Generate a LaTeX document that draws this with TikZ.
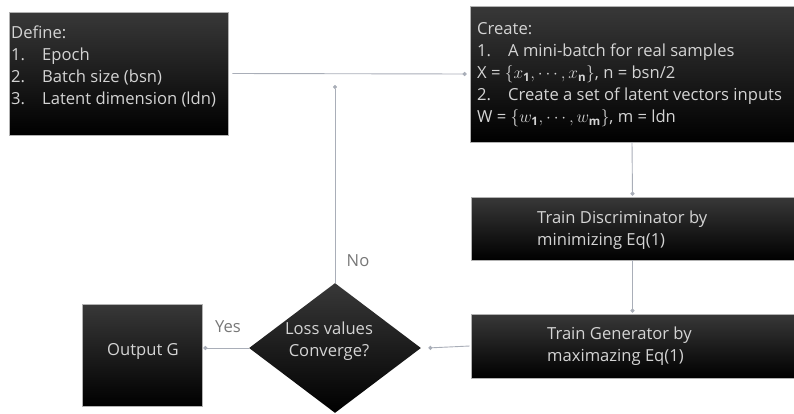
\documentclass[tikz,border=0pt]{standalone}
\usepackage{fontspec}
\setmainfont{Open Sans}
\usetikzlibrary{shapes.geometric,arrows.meta}
\definecolor{linec}{HTML}{A9AEB8}
\definecolor{txtc}{HTML}{D4D4D4}
\definecolor{lblc}{HTML}{777777}
\tikzset{
  blk/.style={draw=gray!60, line width=0.8pt, top color=black!78, middle color=black, bottom color=black, shading angle=0, inner sep=0pt},
  txt/.style={text=txtc, font=\fontsize{16.6}{22}\selectfont, align=left, inner sep=0pt},
  lbl/.style={text=lblc, font=\fontsize{16.6}{20}\selectfont, inner sep=0pt},
  conn/.style={draw=linec, line width=0.9pt, -{Circle[length=4pt]}, shorten >=1pt},
}
\newcommand{\numi}[1]{\makebox[31pt][l]{#1}}
\begin{document}
\begin{tikzpicture}[x=1pt,y=-1pt]
\useasboundingbox (0,0) rectangle (794,413);
% boxes
\node[blk, minimum width=219pt, minimum height=123pt] (define) at (118.5,73.5) {};
\node[blk, minimum width=324pt, minimum height=136pt] (create) at (632,74) {};
\node[blk, minimum width=323pt, minimum height=63pt] (trainD) at (632.5,228.5) {};
\node[blk, minimum width=323pt, minimum height=64pt] (trainG) at (632.5,346) {};
\node[blk, draw=none, shape=diamond, minimum width=172pt, minimum height=130pt] (conv) at (335,348) {};
\node[blk, minimum width=120pt, minimum height=102pt] (output) at (142,355) {};
% texts
\node[txt, anchor=west] (definetxt) at (11,66) {Define:\\\numi{1.}Epoch\\\numi{2.}Batch size (bsn)\\\numi{3.}Latent dimension (ldn)};
\node[txt, anchor=west] (createtxt) at (477,75) {Create:\\\numi{1.}A mini-batch for real samples\\X = $\{x_{\mathbf{1}},\cdots,x_{\mathbf{n}}\}$, n = bsn/2\\\numi{2.}Create a set of latent vectors inputs\\W = $\{w_{\mathbf{1}},\cdots,w_{\mathbf{m}}\}$, m = ldn};
\node[txt, anchor=west] (trainDtxt) at (537,230) {Train Discriminator by\\minimizing Eq(1)};
\node[txt, anchor=west] (trainGtxt) at (547,346) {Train Generator by\\maximazing Eq(1)};
\node[txt, align=center] (convtxt) at (329,341) {Loss values\\Converge?};
\node[txt] (outputtxt) at (143,351) {Output G};
% connectors
\coordinate (noend) at (335,84);
\draw[conn] ([xshift=4pt]define.east) -- ([xshift=-2pt]create.west);
\draw[conn] (create.south) -- (trainD.north);
\draw[conn] (trainD.south) -- (trainG.north);
\draw[conn] ([xshift=-1pt]trainG.west) -- ([xshift=6pt]conv.east);
\draw[conn] (conv.west) -- (conv.west -| output.east);
\draw[conn] (conv.north) -- (noend);
\node[lbl] (nolbl) at (358,261) {No};
\node[lbl] (yeslbl) at (228,327) {Yes};
\end{tikzpicture}
\end{document}
